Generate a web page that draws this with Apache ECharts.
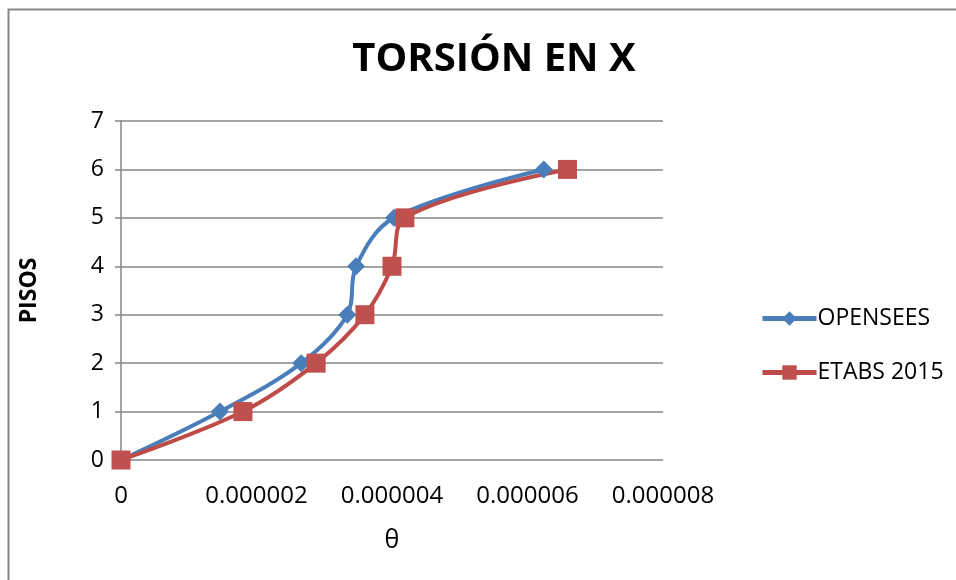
<!DOCTYPE html>
<html>
<head>
<meta charset="utf-8">
<script src="https://cdn.jsdelivr.net/npm/echarts@6/dist/echarts.min.js"></script>
<style>
  html, body { margin: 0; padding: 0; background: #fff; }
  #chart { width: 956px; height: 580px; }
</style>
</head>
<body>
<div id="chart"></div>
<script>
// pisos (y) y giro θ (x)
const pisos = [0, 1, 2, 3, 4, 5, 6]
const thetaOpensees = [0, 0.00000146, 0.00000266, 0.00000334, 0.00000347, 0.00000403, 0.00000624]
const thetaEtabs = [0, 0.0000018, 0.00000288, 0.0000036, 0.000004, 0.00000419, 0.00000659]

const chart = echarts.init(document.getElementById('chart'))

const fontFam = '"Open Sans", "DejaVu Sans", sans-serif'

const option = {
  backgroundColor: '#fff',
  animation: false,
  title: {
    text: 'TORSIÓN EN X',
    left: 489,
    top: 35,
    textAlign: 'center',
    textStyle: { fontFamily: fontFam, fontSize: 40, fontWeight: 'bold', color: '#000' }
  },
  graphic: [{
    type: 'rect',
    shape: { x: 8.5, y: 9.5, width: 1000, height: 600 },
    style: { fill: 'none', stroke: '#868686', lineWidth: 2 },
    silent: true
  }],
  legend: {
    orient: 'vertical',
    left: 755,
    top: 302,
    itemWidth: 54,
    itemHeight: 18,
    itemGap: 31,
    lineStyle: { width: 5 },
    textStyle: { fontFamily: fontFam, fontSize: 23, color: '#000', padding: [0, 0, 0, -4] },
    data: ['OPENSEES', 'ETABS 2015']
  },
  grid: { left: 121, right: 293, top: 121, bottom: 120 },
  xAxis: {
    type: 'value',
    min: 0,
    max: 0.000008,
    interval: 0.000002,
    name: 'θ',
    nameLocation: 'middle',
    nameGap: 68,
    nameTextStyle: { fontFamily: fontFam, fontSize: 25, color: '#000' },
    axisLine: { show: false },
    axisTick: { show: false },
    axisLabel: {
      fontFamily: fontFam, fontSize: 24, color: '#000', margin: 24,
      formatter: v => v === 0 ? '0' : v.toFixed(6)
    },
    splitLine: { show: false }
  },
  yAxis: {
    type: 'value',
    min: 0,
    max: 7,
    interval: 1,
    name: 'PISOS',
    nameLocation: 'middle',
    nameGap: 80,
    nameTextStyle: { fontFamily: fontFam, fontSize: 23, fontWeight: 'bold', color: '#000' },
    axisLine: { show: true, lineStyle: { color: '#868686', width: 1.5 } },
    axisTick: { show: true, length: 6, lineStyle: { color: '#868686', width: 1.5 } },
    axisLabel: { fontFamily: fontFam, fontSize: 23, color: '#000', margin: 17 },
    splitLine: { show: true, lineStyle: { color: '#868686', width: 1.5 } }
  },
  series: [
    {
      name: 'OPENSEES',
      type: 'line',
      data: pisos.map((p, i) => [thetaOpensees[i], p]),
      smooth: 0.35,
      symbol: 'diamond',
      symbolSize: 18,
      lineStyle: { color: '#4a7ebb', width: 4 },
      itemStyle: { color: '#4a7ebb' }
    },
    {
      name: 'ETABS 2015',
      type: 'line',
      data: pisos.map((p, i) => [thetaEtabs[i], p]),
      smooth: 0.35,
      symbol: 'rect',
      symbolSize: 19,
      lineStyle: { color: '#be4b48', width: 4 },
      itemStyle: { color: '#c0504d' }
    }
  ]
}

chart.setOption(option)
</script>
</body>
</html>
